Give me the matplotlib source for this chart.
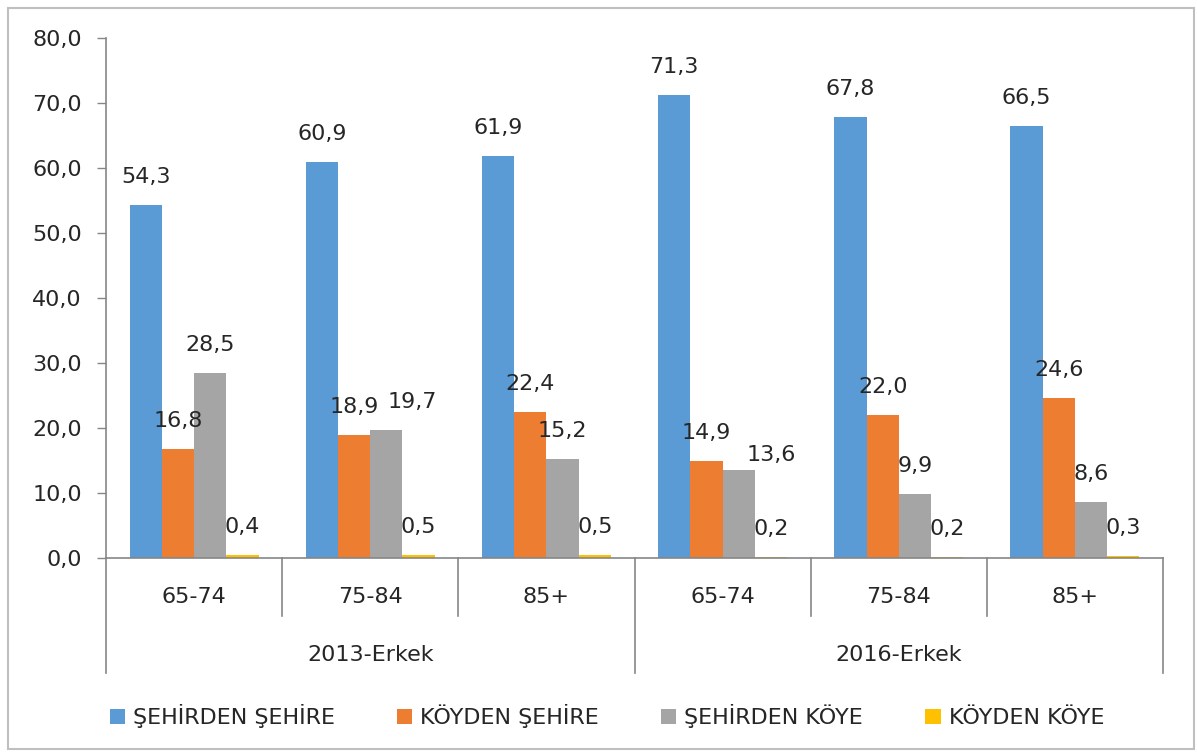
import matplotlib
matplotlib.use("Agg")
import matplotlib.pyplot as plt
from matplotlib.patches import Rectangle, Patch
from matplotlib.ticker import FuncFormatter, MultipleLocator
import numpy as np

plt.rcParams['font.family'] = ['DejaVu Sans']

age_groups = ["65-74", "75-84", "85+", "65-74", "75-84", "85+"]
year_groups = ["2013-Erkek", "2016-Erkek"]
series_names = ["ŞEHİRDEN ŞEHİRE", "KÖYDEN ŞEHİRE", "ŞEHİRDEN KÖYE", "KÖYDEN KÖYE"]
sehirden_sehire = [54.3, 60.9, 61.9, 71.3, 67.8, 66.5]
koyden_sehire = [16.8, 18.9, 22.4, 14.9, 22.0, 24.6]
sehirden_koye = [28.5, 19.7, 15.2, 13.6, 9.9, 8.6]
koyden_koye = [0.4, 0.5, 0.5, 0.2, 0.2, 0.3]
colors = ["#5B9BD5", "#ED7D31", "#A5A5A5", "#FFC000"]

# label nudges (pixels) where the original moved labels to avoid overlap: (series, category) -> (dx, dy)
label_nudge = {(2, 1): (26, 0), (2, 3): (33, -13)}

W, H = 1197, 753
fig = plt.figure(figsize=(W / 100, H / 100), dpi=100)
fig.patch.set_facecolor("white")
fig.patches.append(Rectangle((8 / W, 4 / H), 1186 / W, 741 / H, transform=fig.transFigure,
                             fill=False, edgecolor="#BFBFBF", linewidth=1.5))

x0, x1, y0, y1 = 106, 1163, 558, 38
ax = fig.add_axes([x0 / W, 1 - y0 / H, (x1 - x0) / W, (y0 - y1) / H])

FS = 16
tc = "#262626"
gray = "#868686"
series = [sehirden_sehire, koyden_sehire, sehirden_koye, koyden_koye]
bw = 0.183
x = np.arange(len(age_groups)) + 0.5
px = 72 / 100
for j, (vals, c) in enumerate(zip(series, colors)):
    pos = x + (j - 1.5) * bw
    ax.bar(pos, vals, width=bw, color=c, label=series_names[j], zorder=2)
    for i, (p, v) in enumerate(zip(pos, vals)):
        dx, dy = label_nudge.get((j, i), (0, 0))
        ax.annotate(f"{v:.1f}".replace(".", ","), (p, v),
                    xytext=(dx * px, (22 + dy) * px), textcoords="offset points",
                    ha="center", va="baseline", fontsize=FS, color=tc)

ax.set_xlim(0, 6)
ax.set_ylim(0, 80)
ax.yaxis.set_major_locator(MultipleLocator(10))
ax.yaxis.set_major_formatter(FuncFormatter(lambda v, p: f"{v:.1f}".replace(".", ",")))
ax.tick_params(axis="y", length=6.5, width=1, color=gray, labelsize=FS, labelcolor=tc, pad=11)
ax.set_xticks([])
for s in ["top", "right"]:
    ax.spines[s].set_visible(False)
for s in ["left", "bottom"]:
    ax.spines[s].set_color(gray)
    ax.spines[s].set_linewidth(1.2)

tr = ax.get_xaxis_transform()
inner_bottom = -(616 - y0) / (y0 - y1)
outer_bottom = -(673 - y0) / (y0 - y1)
for b in range(7):
    yb = outer_bottom if b in (0, 3, 6) else inner_bottom
    ax.plot([b, b], [0, yb], transform=tr, color=gray, lw=1.2, clip_on=False)
for i, lab in enumerate(age_groups):
    ax.text(i + 0.5, -(597 - y0) / (y0 - y1), lab, transform=tr, ha="center", va="center",
            fontsize=FS, color=tc)
for k, lab in enumerate(year_groups):
    ax.text(3 * k + 1.5, -(655 - y0) / (y0 - y1), lab, transform=tr, ha="center", va="center",
            fontsize=FS, color=tc)

handles = [Patch(facecolor=c, edgecolor="none") for c in colors]
fig.legend(handles, series_names, loc="center", bbox_to_anchor=(607 / W, 1 - 716 / H), ncol=4,
           frameon=False, fontsize=FS, handlelength=0.68, handleheight=0.68, handletextpad=0.36,
           columnspacing=2.8, labelcolor=tc)

fig.savefig("out.png", dpi=100, facecolor="white")
